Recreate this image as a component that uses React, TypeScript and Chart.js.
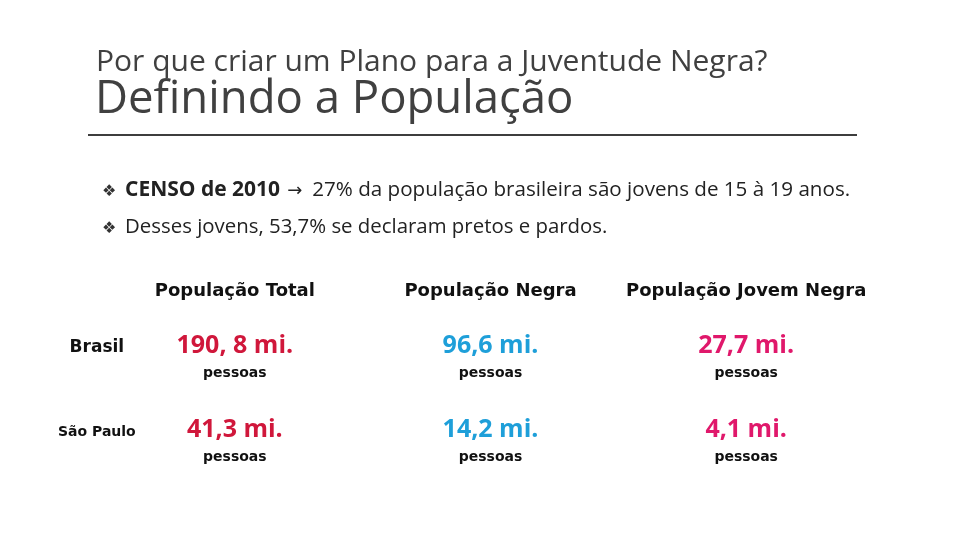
import React, { useEffect, useRef } from "react";
import { Chart, registerables } from "chart.js";

Chart.register(...registerables);

// ---- texts & data ----
const pageTitle = "Por que criar um Plano para a Juventude Negra?";
const pageSubtitle = "Definindo a População";
const bulletCensoBold = "CENSO de 2010";
const bulletCensoText = "27% da população brasileira são jovens de 15 à 19 anos.";
const bulletJovens = "Desses jovens, 53,7% se declaram pretos e pardos.";

const columns = ["População Total", "População Negra", "População Jovem Negra"];
const regions = ["Brasil", "São Paulo"];

// values in millions of people, as printed on the slide
const populacaoTotal = ["190, 8", "41,3"];
const populacaoNegra = ["96,6", "14,2"];
const populacaoJovemNegra = ["27,7", "4,1"];

const unitText = "mi.";
const peopleText = "pessoas";

const seriesValues = [populacaoTotal, populacaoNegra, populacaoJovemNegra];
const seriesColors = ["#d0173b", "#1e9fd9", "#e0186b"];

const valueLabelPlugin = {
  id: "valueLabels",
  afterDatasetsDraw(chart: any) {
    const ctx = chart.ctx;
    chart.data.datasets.forEach((ds: any, di: number) => {
      const meta = chart.getDatasetMeta(di);
      meta.data.forEach((el: any, i: number) => {
        const { x, y } = el.getProps(["x", "y"], true);
        ctx.save();
        ctx.textAlign = "center";
        ctx.textBaseline = "alphabetic";
        ctx.font = 'bold 25px "Open Sans"';
        ctx.fillStyle = ds.valueColor;
        ctx.fillText(ds.valueTexts[i] + " " + unitText, x, y + 5);
        ctx.font = 'bold 14px "DejaVu Sans"';
        ctx.fillStyle = "#111111";
        ctx.fillText(peopleText, x, y + 29);
        ctx.restore();
      });
    });
  },
};

function TableChart() {
  const ref = useRef<HTMLCanvasElement | null>(null);
  useEffect(() => {
    if (!ref.current) return;
    const chart = new Chart(ref.current, {
      type: "scatter",
      data: {
        datasets: seriesValues.map((vals, si) => ({
          label: columns[si],
          data: regions.map((r) => ({ x: columns[si], y: r })),
          pointRadius: 0,
          pointHoverRadius: 0,
          showLine: false,
          valueTexts: vals,
          valueColor: seriesColors[si],
        })) as any,
      },
      options: {
        animation: false,
        responsive: false,
        events: [],
        layout: { padding: { left: 0, right: 86, top: 0, bottom: 66 } },
        plugins: {
          legend: { display: false },
          title: { display: false },
          tooltip: { enabled: false },
        },
        scales: {
          x: {
            type: "category",
            labels: columns,
            position: "top",
            offset: true,
            grid: { display: false, drawTicks: false },
            border: { display: false },
            ticks: {
              color: "#111111",
              font: { family: "DejaVu Sans", weight: "bold", size: 18 },
              padding: 4,
              maxRotation: 0,
              autoSkip: false,
            },
            afterFit: (scale: any) => {
              scale.height = 306;
            },
          },
          y: {
            type: "category",
            labels: regions,
            offset: true,
            grid: { display: false, drawTicks: false },
            border: { display: false },
            ticks: {
              color: "#111111",
              mirror: true,
              crossAlign: "center",
              padding: -49,
              autoSkip: false,
              font: (c: any) => ({
                family: "DejaVu Sans",
                weight: "bold",
                size: c.index === 0 ? 17 : 14,
              }),
            },
            afterFit: (scale: any) => {
              scale.width = 107;
            },
          },
        },
      } as any,
      plugins: [valueLabelPlugin],
    });
    return () => chart.destroy();
  }, []);
  return (
    <canvas
      ref={ref}
      width={960}
      height={540}
      style={{ position: "absolute", left: 0, top: 0, width: 960, height: 540 }}
    />
  );
}

export default function App() {
  useEffect(() => {
    document.body.style.margin = "0";
  }, []);
  const textFont = '"Open Sans", "Noto Sans", sans-serif';
  const bulletStyle: React.CSSProperties = {
    display: "inline-block",
    width: 23,
    fontFamily: "DejaVu Sans",
    fontSize: 16,
    color: "#333333",
  };
  return (
    <div
      style={{
        position: "relative",
        width: 960,
        height: 540,
        background: "#ffffff",
        overflow: "hidden",
        fontFamily: textFont,
      }}
    >
      <TableChart />
      <div
        style={{
          position: "absolute",
          left: 96,
          top: 42,
          fontSize: 30,
          lineHeight: "36px",
          color: "#404040",
          whiteSpace: "nowrap",
        }}
      >
        {pageTitle}
      </div>
      <div
        style={{
          position: "absolute",
          left: 95,
          top: 68,
          fontSize: 45.5,
          lineHeight: "54px",
          color: "#404040",
          whiteSpace: "nowrap",
        }}
      >
        {pageSubtitle}
      </div>
      <div
        style={{
          position: "absolute",
          left: 88,
          top: 134,
          width: 769,
          height: 2,
          background: "#3d3d3d",
        }}
      />
      <div
        style={{
          position: "absolute",
          left: 102,
          top: 176,
          fontSize: 20.6,
          lineHeight: "24px",
          color: "#222222",
          whiteSpace: "nowrap",
        }}
      >
        <span style={bulletStyle}>❖</span>
        <b style={{ fontSize: 21 }}>{bulletCensoBold}</b>
        <span style={{ fontFamily: "DejaVu Sans", fontSize: 18, margin: "0 10px 0 7px" }}>→</span>
        {bulletCensoText}
      </div>
      <div
        style={{
          position: "absolute",
          left: 102,
          top: 213,
          fontSize: 20.4,
          lineHeight: "24px",
          color: "#222222",
          whiteSpace: "nowrap",
        }}
      >
        <span style={bulletStyle}>❖</span>
        {bulletJovens}
      </div>
    </div>
  );
}
